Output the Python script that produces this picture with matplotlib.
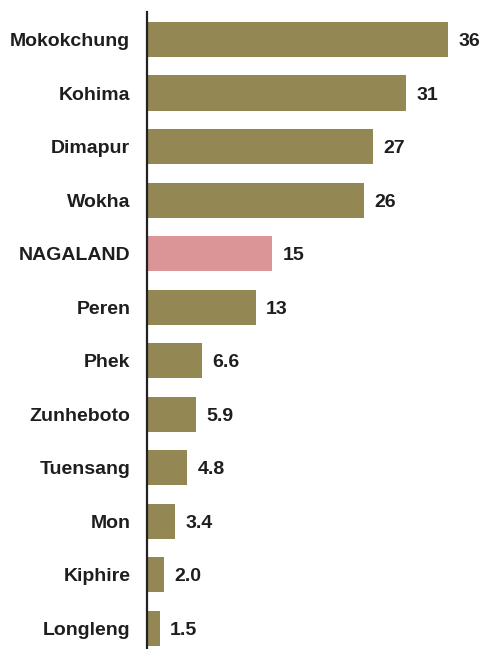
import matplotlib
matplotlib.use("Agg")
import matplotlib.pyplot as plt

districts = ["Mokokchung", "Kohima", "Dimapur", "Wokha", "NAGALAND", "Peren",
             "Phek", "Zunheboto", "Tuensang", "Mon", "Kiphire", "Longleng"]
values = [36, 31, 27, 26, 15, 13, 6.6, 5.9, 4.8, 3.4, 2.0, 1.5]
labels = ["36", "31", "27", "26", "15", "13", "6.6", "5.9", "4.8", "3.4", "2.0", "1.5"]

plt.rcParams['font.family'] = ['Liberation Sans', 'DejaVu Sans']

fig = plt.figure(figsize=(4.83, 6.49), dpi=100)
ax = fig.add_axes([147/483, 0, 334.4/483, (649-12)/649])

olive = "#938853"
pink = "#db9597"
txt = "#1e1e1e"
colors = [pink if d == "NAGALAND" else olive for d in districts]
ypos = list(range(len(districts)))
ax.barh(ypos, values, height=0.655, color=colors, edgecolor="none")

ax.set_xlim(0, 40)
ax.set_ylim(11.39, -0.514)
ax.set_yticks(ypos)
ax.set_yticklabels(districts, fontsize=14, fontweight="bold", color=txt)
for lab in ax.get_yticklabels():
    lab.set_va("center_baseline")
ax.tick_params(axis="y", length=0, pad=12)
ax.set_xticks([])
for s in ["top", "right", "bottom"]:
    ax.spines[s].set_visible(False)
ax.spines["left"].set_linewidth(1.6)
ax.spines["left"].set_color("#222222")

for y, v, t in zip(ypos, values, labels):
    ax.annotate(t, (v, y), xytext=(7.5, 0), textcoords="offset points",
                ha="left", va="center_baseline", fontsize=14, fontweight="bold",
                color=txt)

fig.savefig("out.png", dpi=100)
